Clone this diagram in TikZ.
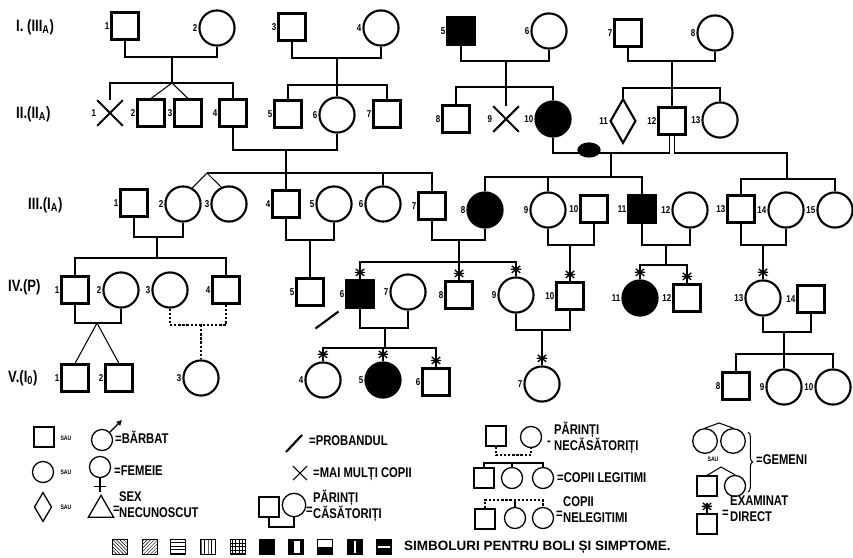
\documentclass[tikz,border=0pt]{standalone}
\usepackage{fontspec}
\setmainfont{Liberation Sans}
\newfontfamily\legfont{Liberation Sans}[FakeStretch=0.8]
\usetikzlibrary{arrows.meta,calc,decorations.pathreplacing,patterns,shapes.geometric,shapes.misc}

\tikzset{
  sym/.style={draw, line width=1.8pt, inner sep=0pt},
  male/.style={sym, rectangle, minimum size=23pt},
  female/.style={sym, circle, minimum size=30pt},
  unknown/.style={sym, diamond, minimum width=22pt, minimum height=38pt},
  many/.style={cross out, draw, line width=1.8pt, minimum size=20pt, inner sep=0pt},
  ill/.style={fill=black},
  blob/.style={ellipse, fill=black, minimum width=20pt, minimum height=13pt, inner sep=0pt},
  num/.style={font=\legfont\bfseries\fontsize{8.5}{8.5}\selectfont, inner sep=0.8pt},
  gen/.style={font=\legfont\bfseries\fontsize{14}{14}\selectfont, anchor=west, inner sep=0pt},
  kin/.style={line width=0.9pt},
  nokin/.style={line width=0.9pt, dash pattern=on 2pt off 1.5pt},
  exline/.style={line width=1.1pt},
  proband/.style={line width=1.8pt},
  legtext/.style={font=\legfont\bfseries\fontsize{12}{13.5}\selectfont, anchor=west, inner sep=0pt, align=left},
  sau/.style={font=\legfont\bfseries\fontsize{5.5}{5.5}\selectfont, inner sep=0pt},
  lmale/.style={sym, line width=1.1pt, rectangle, minimum size=17pt},
  lfemale/.style={sym, line width=1.1pt, circle, minimum size=18pt},
  dis/.style={draw, line width=0.8pt, minimum size=13pt, inner sep=0pt},
}

% asterisk above a symbol = examined directly
\newcommand{\examstar}[1]{%
  \draw[exline] ([yshift=6pt]#1.north) +(-3.6pt,-3pt) -- +(3.6pt,3pt)
    +(-3.6pt,3pt) -- +(3.6pt,-3pt) +(-4.3pt,0pt) -- +(4.3pt,0pt);}

\begin{document}
\begin{tikzpicture}[x=0.03cm,y=-0.03cm]
  \useasboundingbox (0,0) rectangle (853,557);

  % generation labels
  \node[gen] (gI) at (16,27) {I. (III\textsubscript{A})};
  \node[gen] (gII) at (16,114) {II.(II\textsubscript{A})};
  \node[gen] (gIII) at (28,205) {III.(I\textsubscript{A})};
  \node[gen] (gIV) at (8,287) {IV.(P)};
  \node[gen] (gV) at (8,378) {V.(I\textsubscript{0})};

  % generation I
  \node[male,label={[num]left:1}] (I1) at (125,26) {};
  \node[female,label={[num]left:2}] (I2) at (217,28) {};
  \node[male,label={[num]left:3}] (I3) at (292,27) {};
  \node[female,label={[num]left:4}] (I4) at (381,28) {};
  \node[male,ill,label={[num]left:5}] (I5) at (461,31) {};
  \node[female,label={[num]left:6}] (I6) at (549,31) {};
  \node[male,label={[num]left:7}] (I7) at (628,33) {};
  \node[female,label={[num]left:8}] (I8) at (715,33) {};

  % generation II
  \node[many,label={[num]left:1}] (II1) at (110,113) {};
  \node[male,label={[num]left:2}] (II2) at (151,113) {};
  \node[male,label={[num]left:3}] (II3) at (188,113) {};
  \node[male,label={[num]left:4}] (II4) at (233,113) {};
  \node[male,label={[num]left:5}] (II5) at (288,114) {};
  \node[female,label={[num]left:6}] (II6) at (337,115) {};
  \node[male,label={[num]left:7}] (II7) at (387,114) {};
  \node[male,label={[num]left:8}] (II8) at (456,119) {};
  \node[many,label={[num]left:9}] (II9) at (506,119) {};
  \node[female,ill,label={[num]left:10}] (II10) at (553,119) {};
  \node[unknown,label={[num]left:11}] (II11) at (623,121) {};
  \node[male,label={[num]left:12}] (II12) at (672,121) {};
  \node[female,label={[num]left:13}] (II13) at (720,120) {};

  % generation III
  \node[male,label={[num]left:1}] (III1) at (134,203) {};
  \node[female,label={[num]left:2}] (III2) at (183,204) {};
  \node[female,label={[num]left:3}] (III3) at (229,204) {};
  \node[male,label={[num]left:4}] (III4) at (286,204) {};
  \node[female,label={[num]left:5}] (III5) at (334,204) {};
  \node[female,label={[num]left:6}] (III6) at (383,204) {};
  \node[male,label={[num]left:7}] (III7) at (432,206) {};
  \node[female,ill,label={[num]left:8}] (III8) at (485,210) {};
  \node[female,label={[num]left:9}] (III9) at (548,210) {};
  \node[male,label={[num]left:10}] (III10) at (594,209) {};
  \node[male,ill,label={[num]left:11}] (III11) at (642,209) {};
  \node[female,label={[num]left:12}] (III12) at (690,210) {};
  \node[male,label={[num]left:13}] (III13) at (741,209) {};
  \node[female,label={[num]left:14}] (III14) at (786,210) {};
  \node[female,label={[num]left:15}] (III15) at (835,210) {};

  % generation IV
  \node[male,label={[num]left:1}] (IV1) at (75,290) {};
  \node[female,label={[num]left:2}] (IV2) at (121,290) {};
  \node[female,label={[num]left:3}] (IV3) at (170,290) {};
  \node[male,label={[num]left:4}] (IV4) at (226,290) {};
  \node[male,label={[num]left:5}] (IV5) at (310,292) {};
  \node[male,ill,label={[num]left:6}] (IV6) at (360,294) {};
  \node[female,label={[num]left:7}] (IV7) at (408,292) {};
  \node[male,label={[num]left:8}] (IV8) at (459,295) {};
  \node[female,label={[num]left:9}] (IV9) at (516,295) {};
  \node[male,label={[num]left:10}] (IV10) at (570,296) {};
  \node[female,ill,label={[num]left:11}] (IV11) at (640,298) {};
  \node[male,label={[num]left:12}] (IV12) at (687,298) {};
  \node[female,label={[num]left:13}] (IV13) at (763,298) {};
  \node[male,label={[num]left:14}] (IV14) at (811,299) {};

  % generation V
  \node[male,label={[num]left:1}] (V1) at (75,378) {};
  \node[male,label={[num]left:2}] (V2) at (119,378) {};
  \node[female,label={[num]left:3}] (V3) at (201,378) {};
  \node[female,label={[num]left:4}] (V4) at (323,380) {};
  \node[female,ill,label={[num]left:5}] (V5) at (383,380) {};
  \node[male,label={[num]left:6}] (V6) at (436,382) {};
  \node[female,label={[num]left:7}] (V7) at (542,384) {};
  \node[male,label={[num]left:8}] (V8) at (736,386) {};
  \node[female,label={[num]left:9}] (V9) at (784,387) {};
  \node[female,label={[num]left:10}] (V10) at (833,387) {};

  % marriages I -> II
  \coordinate (m1) at (172,57);  \coordinate (s1) at (172,83);
  \draw[kin] (I1.south) |- (m1) -| (I2.south);
  \draw[kin] (m1) -- (s1);
  \draw[kin] (II1.north) |- (s1) -| (II4.north);
  \draw[kin] (II2.north) -- (s1) -- (II3.north);
  \coordinate (m2) at (337,58);  \coordinate (s2) at (337,85);
  \draw[kin] (I3.south) |- (m2) -| (I4.south);
  \draw[kin] (m2) -- (II6.north);
  \draw[kin] (II5.north) |- (s2) -| (II7.north);
  \coordinate (m3) at (506,61);  \coordinate (s3) at (506,87);
  \draw[kin] (I5.south) |- (m3) -| (I6.south);
  \draw[kin] (m3) -- (II9.north);
  \draw[kin] (II8.north) |- (s3) -| (II10.north);
  \coordinate (m4) at (672,61);  \coordinate (s4) at (672,88);
  \draw[kin] (I7.south) |- (m4) -| (I8.south);
  \draw[kin] (m4) -- (II12.north);
  \draw[kin] (II11.north) |- (s4) -| (II13.north);

  % marriages II -> III
  \coordinate (m5) at (286,150);  \coordinate (tw1) at (207,173);
  \draw[kin] (II4.south) |- (m5) -| (II6.south);
  \draw[kin] (m5) -- (III4.north);
  \draw[kin] (tw1) -| (III7.north);
  \draw[kin] (III2.60) -- (tw1) -- (III3.115);
  \draw[kin] (III6.north) -- (III6.north |- tw1);
  \coordinate (m6) at (611,153);  \coordinate (s6) at (611,177);
  \draw[kin] (II10.south) |- (m6) -| ([xshift=-2.5pt]II12.south);
  \node[blob] (ab) at (589,150) {};
  \draw[kin] (m6) -- (s6);
  \draw[kin] (III8.north) |- (s6) -| (III11.north);
  \draw[kin] (III9.north) -- (III9.north |- s6);
  \coordinate (k1) at (787,153);  \coordinate (s7) at (787,179);
  \draw[kin] ([xshift=2.5pt]II12.south) |- (k1) -- (s7);
  \draw[kin] (III13.north) |- (s7) -| (III15.north);

  % marriages III -> IV
  \coordinate (m7) at (157,237);  \coordinate (s8) at (157,258);
  \draw[kin] (III1.south) |- (m7) -| (III2.south);
  \draw[kin] (m7) -- (s8);
  \draw[kin] (IV1.north) |- (s8) -| (IV4.north);
  \coordinate (m8) at (310,240);
  \draw[kin] (III4.south) |- (m8) -| (III5.south);
  \draw[kin] (m8) -- (IV5.north);
  \coordinate (m9) at (459,240);  \coordinate (s9) at (459,262);
  \draw[kin] (III7.south) |- (m9) -| (III8.south);
  \draw[kin] (m9) -- (IV8.north);
  \draw[kin] (IV6.north) |- (s9) -| (IV9.north);
  \coordinate (m10) at (570,245);
  \draw[kin] (III9.south) |- (m10) -| (III10.south);
  \draw[kin] (m10) -- (IV10.north);
  \coordinate (m11) at (666,245);  \coordinate (s10) at (666,265);
  \draw[kin] (III11.south) |- (m11) -| (III12.south);
  \draw[kin] (m11) -- (s10);
  \draw[kin] (IV11.north) |- (s10) -| (IV12.north);
  \coordinate (m12) at (763,245);
  \draw[kin] (III13.south) |- (m12) -| (III14.south);
  \draw[kin] (m12) -- (IV13.north);

  % marriages IV -> V
  \coordinate (m13) at (97,323);
  \draw[kin] (IV1.south) |- (m13) -| (IV2.south);
  \draw[kin] (V1.north) -- (m13) -- (V2.north);
  \coordinate (m14) at (201,325);
  \draw[nokin] (IV3.south) |- (m14) -| (IV4.south);
  \draw[nokin] (m14) -- (V3.north);
  \coordinate (m15) at (385,328);  \coordinate (s11) at (385,348);
  \draw[kin] (IV6.south) |- (m15) -| (IV7.south);
  \draw[kin] (m15) -- (s11);
  \draw[kin] (V4.north) |- (s11) -| (V6.north);
  \draw[kin] (V5.north) -- (V5.north |- s11);
  \coordinate (m16) at (542,330);
  \draw[kin] (IV9.south) |- (m16) -| (IV10.south);
  \draw[kin] (m16) -- (V7.north);
  \coordinate (m17) at (784,332);  \coordinate (s12) at (784,354);
  \draw[kin] (IV13.south) |- (m17) -| (IV14.south);
  \draw[kin] (m17) -- (V9.north);
  \draw[kin] (V8.north) |- (s12) -| (V10.north);

  % examined directly
  \foreach \p in {IV6,IV8,IV9,IV10,IV11,IV12,IV13,V4,V5,V6,V7}
    {\examstar{\p}}
  % proband
  \draw[proband] ([shift={(-7,3)}]IV6.south west) -- ([shift={(-30,20)}]IV6.south west);

  % legend, first column
  \node[lmale] (Lm) at (44,437) {};
  \node[sau] (sau1) at (66,438) {SAU};
  \node[lfemale] (Lms) at (102,440) {};
  \draw[line width=1.1pt,-{Triangle[length=4.5pt,width=4.5pt]}] (Lms.45) -- ++(12,-12);
  \node[legtext] (tBar) at (115,437) {=BĂRBAT};
  \node[lfemale] (Lf) at (43,472) {};
  \node[sau] (sau2) at (66,472) {SAU};
  \node[lfemale] (Lfs) at (100,467) {};
  \draw[line width=1.1pt] (Lfs.south) -- ++(0,14);
  \draw[line width=1.1pt] ([shift={(-6,8)}]Lfs.south) -- ([shift={(6,8)}]Lfs.south);
  \node[legtext] (tFem) at (114,471) {=FEMEIE};
  \node[sym,line width=1.1pt,diamond,minimum width=15pt,minimum height=25pt] (Ld) at (43,507) {};
  \node[sau] (sau3) at (66,507) {SAU};
  \node[sym,line width=1.1pt,regular polygon,regular polygon sides=3,minimum size=25pt] (Lt) at (101,510) {};
  \node[legtext] (tSexEq) at (113,510) {=};
  \node[legtext] (tSex) at (119,505) {SEX\\NECUNOSCUT};

  % legend, second column
  \coordinate (Lp1) at (286,452); \coordinate (Lp2) at (302,435);
  \draw[proband] (Lp1) -- (Lp2);
  \node[legtext] (tPro) at (309,441) {=PROBANDUL};
  \node[many,line width=0.9pt,minimum size=11pt] (Lx) at (300,473) {};
  \node[legtext] (tMany) at (313,474) {=MAI MULȚI COPII};
  \node[lmale] (Lcm) at (269,507) {};
  \node[lfemale,minimum size=20pt] (Lcf) at (294,505) {};
  \coordinate (Lc) at (282,527);
  \draw[kin] (Lcm.south) |- (Lc) -| (Lcf.south);
  \node[legtext] (tCasEq) at (306,511) {=};
  \node[legtext] (tCas) at (313,506) {PĂRINȚI\\CĂSĂTORIȚI};

  % legend, third column
  \node[lmale] (Lnm) at (496,436) {};
  \node[lfemale] (Lnf) at (531,437) {};
  \coordinate (Ln) at (512,455);
  \draw[nokin] (Lnm.south) |- (Ln) -| (Lnf.south);
  \node[legtext] (tNecEq) at (547,443) {-};
  \node[legtext] (tNec) at (554,438) {PĂRINȚI\\NECĂSĂTORIȚI};
  \node[lmale] (Lg1) at (484,478) {};
  \node[lfemale] (Lg2) at (512,478) {};
  \node[lfemale] (Lg3) at (543,478) {};
  \coordinate (Lgs) at (512,463);
  \draw[kin] (Lg1.north) |- (Lgs) -| (Lg3.north);
  \draw[kin] (Lg2.north) -- (Lgs);
  \node[legtext] (tLeg) at (557,478) {=COPII LEGITIMI};
  \node[lmale] (Li1) at (485,519) {};
  \node[lfemale] (Li2) at (515,518) {};
  \node[lfemale] (Li3) at (543,518) {};
  \coordinate (Lis) at (515,500);
  \draw[nokin] (Li1.north) |- (Lis) -| (Li3.north);
  \draw[kin] (Li2.north) -- (Lis);
  \node[legtext] (tNelEq) at (556,515) {=};
  \node[legtext] (tNel) at (563,510) {COPII\\NELEGITIMI};

  % legend, fourth column
  \node[lfemale,minimum size=21pt] (Lw1) at (705,441) {};
  \node[lfemale,minimum size=21pt] (Lw2) at (733,441) {};
  \coordinate (Lwa) at (719,423);
  \draw[kin] (Lw1.north) -- (Lwa) -- (Lw2.north);
  \node[sau] (sau4) at (713,459) {SAU};
  \node[lmale] (Lw3) at (707,486) {};
  \node[lfemale] (Lw4) at (735,486) {};
  \coordinate (Lwb) at (721,467);
  \draw[kin] (Lw3.north) -- (Lwb) -- (Lw4.north);
  \draw[kin,decorate,decoration={brace,amplitude=4pt}] (748,432) -- (748,492);
  \node[legtext] (tGem) at (756,460) {=GEMENI};
  \node[lmale] (Lex) at (707,524) {};
  \draw[kin] (Lex.north) -- ([yshift=9pt]Lex.north);
  \examstar{Lex}
  \node[legtext] (tExEq) at (722,514) {=};
  \node[legtext] (tEx) at (730,509) {EXAMINAT\\DIRECT};

  % symbols for diseases
  \node[dis,pattern=north west lines] (D1) at (120,547) {};
  \node[dis,pattern=north east lines] (D2) at (150,547) {};
  \node[dis,pattern=horizontal lines] (D3) at (178,547) {};
  \node[dis,pattern=vertical lines] (D4) at (208,547) {};
  \node[dis,pattern=grid] (D5) at (238,547) {};
  \node[dis,fill=black] (D6) at (267,547) {};
  \node[dis,fill=black] (D7) at (296,547) {};
  \fill[white] ([shift={(-1.5pt,-2pt)}]D7.north) rectangle ([shift={(3pt,2pt)}]D7.south);
  \node[dis] (D8) at (325,547) {};
  \fill (D8.west) rectangle (D8.south east);
  \node[dis,fill=black] (D9) at (355,547) {};
  \fill[white] ([shift={(-1.2pt,-2pt)}]D9.north) rectangle ([shift={(1.2pt,2pt)}]D9.south);
  \node[dis,fill=black] (D10) at (384,547) {};
  \fill[white] ([shift={(2pt,1.2pt)}]D10.west) rectangle ([shift={(-2pt,-1.2pt)}]D10.east);
  \node[legtext,font=\bfseries\fontsize{11.5}{11.5}\selectfont] (tSym) at (404,547) {SIMBOLURI PENTRU BOLI ȘI SIMPTOME.};
\end{tikzpicture}
\end{document}
